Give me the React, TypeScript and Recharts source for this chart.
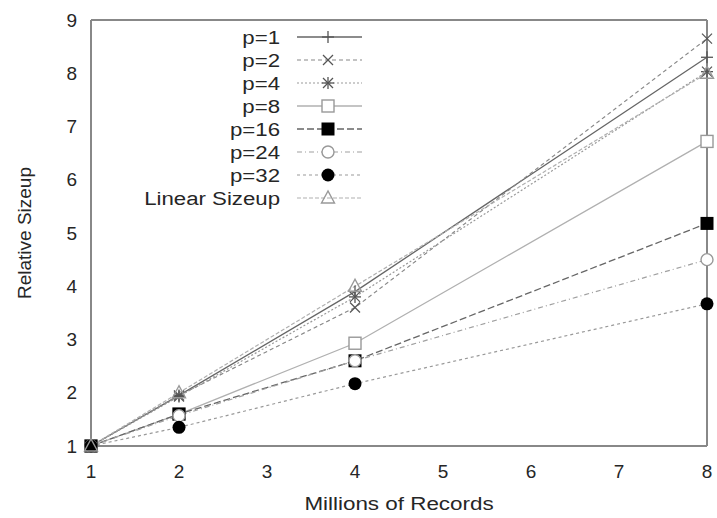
import React from 'react';
import { LineChart, Line, XAxis, YAxis } from 'recharts';

const records = [1, 2, 4, 8];
const p1 = [1, 1.95, 3.9, 8.3];
const p2 = [1, 1.95, 3.6, 8.65];
const p4 = [1, 1.93, 3.8, 8.03];
const p8 = [1, 1.6, 2.93, 6.72];
const p16 = [1, 1.6, 2.6, 5.18];
const p24 = [1, 1.57, 2.6, 4.5];
const p32 = [1, 1.35, 2.17, 3.67];
const linear = [1, 2, 4, 8];

const xTicks = [1, 2, 3, 4, 5, 6, 7, 8];
const yTicks = [1, 2, 3, 4, 5, 6, 7, 8, 9];
const seriesNames = ['p=1', 'p=2', 'p=4', 'p=8', 'p=16', 'p=24', 'p=32', 'Linear Sizeup'];
const seriesValues = [p1, p2, p4, p8, p16, p24, p32, linear];

type Shape = 'plus' | 'cross' | 'star' | 'sqOpen' | 'sqFill' | 'cirOpen' | 'cirFill' | 'tri';
const styles: { shape: Shape; stroke: string; dash?: string; mark: string; width: number }[] = [
  { shape: 'plus', stroke: '#666', mark: '#555', width: 1.3 },
  { shape: 'cross', stroke: '#888', dash: '4 3', mark: '#555', width: 1.2 },
  { shape: 'star', stroke: '#999', dash: '2 2', mark: '#555', width: 1.2 },
  { shape: 'sqOpen', stroke: '#b0b0b0', mark: '#999', width: 1.3 },
  { shape: 'sqFill', stroke: '#666', dash: '7 3', mark: '#000', width: 1.3 },
  { shape: 'cirOpen', stroke: '#a0a0a0', dash: '5 3 1 3', mark: '#999', width: 1.2 },
  { shape: 'cirFill', stroke: '#999', dash: '3 3', mark: '#000', width: 1.2 },
  { shape: 'tri', stroke: '#b0b0b0', dash: '4 2', mark: '#999', width: 1.2 },
];

const data = records.map((x, i) => {
  const row: Record<string, number> = { x };
  seriesValues.forEach((vals, s) => {
    row['s' + s] = vals[i];
  });
  return row;
});

const FONT = '"Liberation Sans", Arial, Helvetica, sans-serif';
const TEXT = '#262626';

function Marker({ shape, cx, cy, color }: { shape: Shape; cx: number; cy: number; color: string }) {
  const h = 6;
  switch (shape) {
    case 'plus':
      return (
        <g stroke={color} strokeWidth={1.3}>
          <line x1={cx - h} y1={cy} x2={cx + h} y2={cy} />
          <line x1={cx} y1={cy - h} x2={cx} y2={cy + h} />
        </g>
      );
    case 'cross':
      return (
        <g stroke={color} strokeWidth={1.3}>
          <line x1={cx - 5} y1={cy - 5} x2={cx + 5} y2={cy + 5} />
          <line x1={cx - 5} y1={cy + 5} x2={cx + 5} y2={cy - 5} />
        </g>
      );
    case 'star':
      return (
        <g stroke={color} strokeWidth={1.3}>
          <line x1={cx - 5} y1={cy - 5} x2={cx + 5} y2={cy + 5} />
          <line x1={cx - 5} y1={cy + 5} x2={cx + 5} y2={cy - 5} />
          <line x1={cx - h} y1={cy} x2={cx + h} y2={cy} />
          <line x1={cx} y1={cy - h} x2={cx} y2={cy + h} />
        </g>
      );
    case 'sqOpen':
      return <rect x={cx - 6} y={cy - 6} width={12} height={12} fill="#fff" stroke={color} strokeWidth={1.4} />;
    case 'sqFill':
      return <rect x={cx - 6.5} y={cy - 6.5} width={13} height={13} fill={color} />;
    case 'cirOpen':
      return <circle cx={cx} cy={cy} r={6} fill="#fff" stroke={color} strokeWidth={1.4} />;
    case 'cirFill':
      return <circle cx={cx} cy={cy} r={6.5} fill={color} />;
    case 'tri':
      return (
        <polygon
          points={`${cx},${cy - 7} ${cx - 6.5},${cy + 5} ${cx + 6.5},${cy + 5}`}
          fill="none"
          stroke={color}
          strokeWidth={1.4}
        />
      );
  }
  return null;
}

const W = 717;
const H = 518;

export default function App() {
  return (
    <div style={{ position: 'fixed', left: 0, top: 0, width: W, height: H, background: '#fff' }}>
      <LineChart
        width={W}
        height={H}
        data={data}
        margin={{ top: 20, right: 10, left: 0, bottom: 0 }}
      >
        <XAxis
          xAxisId="x"
          dataKey="x"
          type="number"
          domain={[1, 8]}
          ticks={xTicks}
          interval={0}
          tickLine={false}
          tickSize={0}
          tickMargin={19}
          axisLine={{ stroke: '#888', strokeWidth: 2 }}
          tick={{ fill: TEXT, fontSize: 19, fontFamily: FONT }}
          height={72}
          label={{
            content: (props: any) => {
              const vb = props.viewBox;
              return (
                <text
                  transform={`translate(${vb.x + vb.width / 2}, 510) scale(1.18,1)`}
                  textAnchor="middle"
                  fill={TEXT}
                  fontSize={19}
                  fontFamily={FONT}
                >
                  Millions of Records
                </text>
              );
            },
          }}
        />
        <XAxis
          xAxisId="xb"
          dataKey="x"
          type="number"
          domain={[1, 8]}
          ticks={xTicks}
          interval={0}
          orientation="bottom"
          mirror
          tick={false}
          tickSize={7}
          tickLine={{ stroke: '#888' }}
          axisLine={false}
        />
        <XAxis
          xAxisId="xt"
          dataKey="x"
          type="number"
          domain={[1, 8]}
          ticks={xTicks}
          interval={0}
          orientation="top"
          mirror
          tick={false}
          tickSize={7}
          tickLine={{ stroke: '#888' }}
          axisLine={{ stroke: '#888', strokeWidth: 2 }}
        />
        <YAxis
          yAxisId="y"
          type="number"
          domain={[1, 9]}
          ticks={yTicks}
          interval={0}
          tickLine={false}
          tickSize={0}
          tickMargin={14}
          width={91}
          axisLine={{ stroke: '#888', strokeWidth: 2 }}
          tick={{ fill: TEXT, fontSize: 19, fontFamily: FONT }}
          label={{
            content: (props: any) => {
              const vb = props.viewBox;
              const cy = vb.y + vb.height / 2;
              return (
                <text
                  transform={`translate(31, ${cy}) rotate(-90)`}
                  textAnchor="middle"
                  fill={TEXT}
                  fontSize={19}
                  fontFamily={FONT}
                >
                  Relative Sizeup
                </text>
              );
            },
          }}
        />
        <YAxis
          yAxisId="yl"
          type="number"
          domain={[1, 9]}
          ticks={yTicks}
          interval={0}
          orientation="left"
          mirror
          tick={false}
          tickSize={7}
          tickLine={{ stroke: '#888' }}
          axisLine={false}
        />
        <YAxis
          yAxisId="yr"
          type="number"
          domain={[1, 9]}
          ticks={yTicks}
          interval={0}
          orientation="right"
          mirror
          tick={false}
          tickSize={7}
          tickLine={{ stroke: '#888' }}
          axisLine={{ stroke: '#888', strokeWidth: 2 }}
        />
        {seriesNames.map((name, s) => {
          const st = styles[s];
          return (
            <Line
              key={name}
              name={name}
              xAxisId="x"
              yAxisId="y"
              dataKey={'s' + s}
              type="linear"
              stroke={st.stroke}
              strokeWidth={st.width}
              strokeDasharray={st.dash}
              isAnimationActive={false}
              dot={(props: any) => (
                <Marker key={`${name}-${props.index}`} shape={st.shape} cx={props.cx} cy={props.cy} color={st.mark} />
              )}
              activeDot={false}
            />
          );
        })}
      </LineChart>
      <svg
        width={W}
        height={H}
        style={{ position: 'absolute', left: 0, top: 0, pointerEvents: 'none' }}
      >
        {seriesNames.map((name, s) => {
          const st = styles[s];
          const y = 37 + 23 * s;
          return (
            <g key={name}>
              <text
                transform={`translate(280, ${y}) scale(1.17,1)`}
                dy="0.36em"
                textAnchor="end"
                fill={TEXT}
                fontSize={19}
                fontFamily={FONT}
              >
                {name}
              </text>
              <line
                x1={297}
                x2={362}
                y1={y}
                y2={y}
                stroke={st.stroke}
                strokeWidth={st.width}
                strokeDasharray={st.dash}
              />
              <Marker shape={st.shape} cx={328} cy={y} color={st.mark} />
            </g>
          );
        })}
      </svg>
    </div>
  );
}
